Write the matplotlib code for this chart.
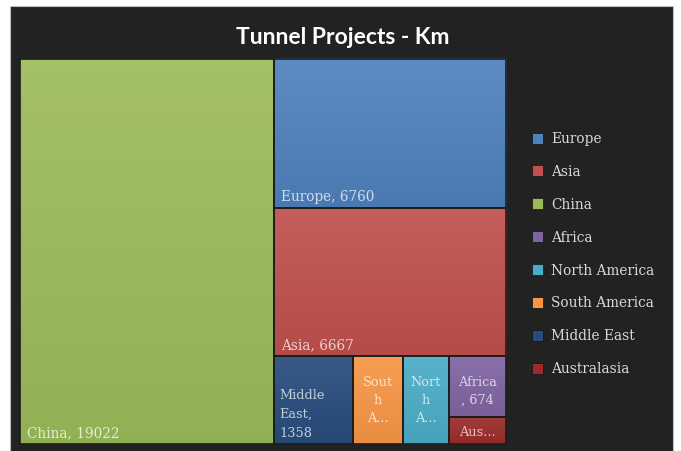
import matplotlib
matplotlib.use("Agg")
import matplotlib.pyplot as plt
import numpy as np
from matplotlib.patches import Rectangle
from matplotlib.colors import to_rgb

# ---- data ----
categories = ["China", "Europe", "Asia", "Middle East", "South America",
              "North America", "Africa", "Australasia"]
values = [19022, 6760, 6667, 1358, 850, 800, 674, 300]
box_labels = ["China, 19022", "Europe, 6760", "Asia, 6667", "Middle\nEast,\n1358",
              "Sout\nh\nA...", "Nort\nh\nA...", "Africa\n, 674", "Aus..."]
legend_order = ["Europe", "Asia", "China", "Africa", "North America",
                "South America", "Middle East", "Australasia"]
colors = {"China": "#9BBB59", "Europe": "#4F81BD", "Asia": "#C0504D",
          "Middle East": "#284C7C", "South America": "#F79646",
          "North America": "#4BACC6", "Africa": "#8064A2",
          "Australasia": "#9B2C2A"}
title = "Tunnel Projects - Km"

W, H = 681, 452
fig = plt.figure(figsize=(W / 100, H / 100), dpi=100)
fig.patch.set_facecolor("white")
ax = fig.add_axes([0, 0, 1, 1])
ax.set_xlim(0, W)
ax.set_ylim(H, 0)
ax.axis("off")

SERIF = "DejaVu Serif"

# dark chart background
ax.add_patch(Rectangle((10, 7), 663, 450, facecolor="#222222",
                       edgecolor="#bdbdbd", lw=0.8, zorder=0))

# ---- squarify layout ----
def worst(row, w):
    s = sum(row)
    return max(max(w * w * r / (s * s), (s * s) / (w * w * r)) for r in row)

def squarify(vals, x, y, dx, dy):
    total = sum(vals)
    areas = [v * dx * dy / total for v in vals]
    rects = []
    i = 0
    while i < len(areas):
        w = min(dx, dy)
        row = [areas[i]]
        j = i + 1
        while j < len(areas) and worst(row + [areas[j]], w) <= worst(row, w):
            row.append(areas[j])
            j += 1
        s = sum(row)
        if dx >= dy:  # column on the left
            cw = s / dy
            yy = y
            for a in row:
                h = a / cw
                rects.append((x, yy, cw, h))
                yy += h
            x += cw
            dx -= cw
        else:  # row on top
            rh = s / dx
            xx = x
            for a in row:
                ww = a / rh
                rects.append((xx, y, ww, rh))
                xx += ww
            y += rh
            dy -= rh
        i = j
    return rects

rects = squarify(values, 20, 60, 486, 385)

def shade(c, f):
    r = np.array(to_rgb(c))
    if f >= 0:
        return r + (1 - r) * f
    return r * (1 + f)

for cat, lab, (x, y, w, h) in zip(categories, box_labels, rects):
    c = colors[cat]
    top, bot = shade(c, 0.08), shade(c, -0.06)
    grad = np.linspace(0, 1, 64)[:, None, None]
    img = top[None, None, :] * (1 - grad) + bot[None, None, :] * grad
    ax.imshow(img, extent=(x, x + w, y + h, y), aspect="auto",
              interpolation="bilinear", zorder=1)
    ax.add_patch(Rectangle((x, y), w, h, facecolor="none",
                           edgecolor="#1c1c1c", lw=1.2, zorder=2))
    tc = tuple(shade(c, 0.72))
    if "\n" not in lab and w > 100:
        ax.text(x + 7, y + h - 8, lab, ha="left", va="baseline",
                fontsize=9.8, family=SERIF, color=tc, zorder=3)
    elif cat == "Middle East":
        ax.text(x + 6, y + h - 8, lab, ha="left", va="baseline",
                fontsize=9.3, family=SERIF, color=tc,
                linespacing=1.6, zorder=3)
    elif cat == "Australasia":
        ax.text(x + w / 2, y + h / 2 + 1, lab, ha="center", va="center",
                fontsize=9.3, family=SERIF, color=tc, zorder=3)
    else:
        ax.text(x + w / 2, y + 19, lab, ha="center", va="top",
                fontsize=9.3, family=SERIF, color=tc,
                linespacing=1.5, zorder=3)

# title
ax.text(343, 37, title, ha="center", va="center", fontsize=16.5,
        fontweight="bold", family="Lato", color="white", zorder=3)

# legend
for k, cat in enumerate(legend_order):
    yy = 139 + k * 32.9
    ax.add_patch(Rectangle((532, yy - 5.5), 11, 11, facecolor=colors[cat],
                           edgecolor="#111111", lw=0.5, zorder=3))
    ax.text(551, yy, cat, ha="left", va="center", fontsize=9.9,
            family=SERIF, color="#d9d9d9", zorder=3)

fig.savefig("out.png", dpi=100, facecolor=fig.get_facecolor())
